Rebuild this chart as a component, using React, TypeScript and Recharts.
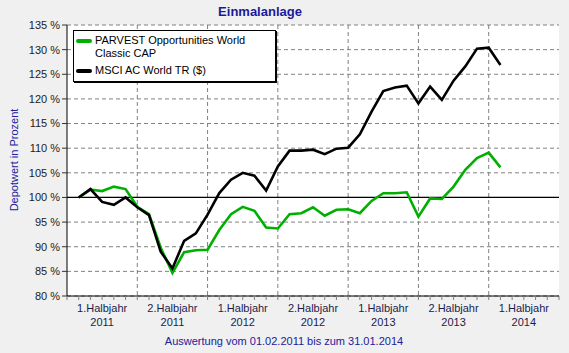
import { LineChart, Line, XAxis, YAxis, CartesianGrid, ReferenceLine } from 'recharts';

// Monate seit Jan 2011 (0 = Jan 2011, 42 = Jul 2014)
const months = [
  1, 2, 3, 4, 5, 6, 7, 8, 9, 10, 11, 12, 13, 14, 15, 16, 17, 18, 19,
  20, 21, 22, 23, 24, 25, 26, 27, 28, 29, 30, 31, 32, 33, 34, 35, 36, 37
];

const parvest = [
  100, 101.6, 101.3, 102.2, 101.7, 98.1, 96.6, 89.8, 84.7, 88.9, 89.3, 89.4,
  93.4, 96.6, 98.1, 97.3, 93.9, 93.7, 96.6, 96.8, 98.0, 96.3, 97.5, 97.6,
  96.8, 99.3, 100.85, 100.85, 101.05, 96.1, 99.8, 99.7, 102.2, 105.6, 108.0, 109.1, 106.1
];

const msci = [
  100, 101.7, 99.1, 98.5, 100, 98.0, 96.4, 89.0, 85.6, 91.2, 92.7, 96.5,
  100.9, 103.6, 105.0, 104.4, 101.4, 106.3, 109.5, 109.5, 109.7, 108.8, 109.9, 110.1,
  112.8, 117.4, 121.6, 122.3, 122.7, 119.1, 122.5, 119.8, 123.7, 126.6, 130.2, 130.4, 126.9
];

const periodLabels = ['1.Halbjahr', '2.Halbjahr', '1.Halbjahr', '2.Halbjahr', '1.Halbjahr', '2.Halbjahr', '1.Halbjahr'];
const periodYears = ['2011', '2011', '2012', '2012', '2013', '2013', '2014'];
const yTicks = [80, 85, 90, 95, 100, 105, 110, 115, 120, 125, 130, 135];
const monthTicks = [
  0, 1, 2, 3, 4, 5, 6, 7, 8, 9, 10, 11, 12, 13, 14, 15, 16, 17, 18, 19, 20, 21,
  22, 23, 24, 25, 26, 27, 28, 29, 30, 31, 32, 33, 34, 35, 36, 37, 38, 39, 40, 41, 42
];
const halfYearLines = [6, 12, 18, 24, 30, 36];

const data = months.map((m, i) => ({ m, parvest: parvest[i], msci: msci[i] }));

const FONT = '"Liberation Sans", Arial, sans-serif';

const HalfYearTick = (props: any) => {
  const { x, y, payload } = props;
  const v = payload.value;
  if (v % 6 !== 3) return <g />;
  const k = (v - 3) / 6;
  return (
    <text x={x} y={y} textAnchor="middle" fill="#1c1c4c" fontSize={11} fontFamily={FONT}>
      <tspan x={x} dy={10}>{periodLabels[k]}</tspan>
      <tspan x={x} dy={13.5}>{periodYears[k]}</tspan>
    </text>
  );
};

const LegendBox = () => (
  <div
    style={{
      position: 'absolute',
      left: 73,
      top: 30,
      background: '#fff',
      border: '1px solid #000',
      boxShadow: '1px 1px 0 #000',
      width: 199,
      padding: '3px 0 4px 2px',
      fontSize: 11,
      color: '#000',
      lineHeight: '13px'
    }}
  >
    <div style={{ display: 'flex', alignItems: 'flex-start', marginBottom: 4 }}>
      <span style={{ width: 16, height: 4, background: '#00b000', marginTop: 5, marginRight: 3, borderRadius: 2 }} />
      <span>PARVEST Opportunities World<br />Classic CAP</span>
    </div>
    <div style={{ display: 'flex', alignItems: 'flex-start' }}>
      <span style={{ width: 16, height: 4, background: '#000', marginTop: 5, marginRight: 3, borderRadius: 2 }} />
      <span>MSCI AC World TR ($)</span>
    </div>
  </div>
);

export default function App() {
  return (
    <div style={{ position: 'absolute', left: 0, top: 0, width: 569, height: 353, background: '#f0f0f0', fontFamily: FONT }}>
      <div style={{ position: 'absolute', left: 0, width: 520, top: 4, textAlign: 'center', fontSize: 13, fontWeight: 'bold', color: '#1a1a9c' }}>
        Einmalanlage
      </div>
      <div
        style={{
          position: 'absolute', left: 14, top: 160, fontSize: 11, color: '#20209a',
          transform: 'translate(-50%, -50%) rotate(-90deg)', whiteSpace: 'nowrap'
        }}
      >
        Depotwert in Prozent
      </div>
      <div style={{ position: 'absolute', left: 0, width: 568, top: 335, textAlign: 'center', fontSize: 11, color: '#20209a' }}>
        Auswertung vom 01.02.2011 bis zum 31.01.2014
      </div>
      <LineChart width={569} height={353} data={data} margin={{ top: 25, right: 10, left: 0, bottom: 17 }}>
        <CartesianGrid fill="#fff" stroke="#808080" strokeDasharray="4 3" verticalValues={halfYearLines} />
        <XAxis
          dataKey="m"
          type="number"
          domain={[0, 42]}
          ticks={monthTicks}
          interval={0}
          height={40}
          tickSize={4}
          tick={<HalfYearTick />}
          axisLine={{ stroke: '#000' }}
          tickLine={{ stroke: '#808080' }}
        />
        <XAxis xAxisId="top" orientation="top" type="number" domain={[0, 42]} height={0} tick={false} tickLine={false} axisLine={{ stroke: '#000' }} />
        <YAxis
          domain={[80, 135]}
          ticks={yTicks}
          width={67}
          tickSize={5}
          tickFormatter={(v: number) => `${v} %`}
          tick={{ fill: '#222', fontSize: 11, fontFamily: FONT }}
          axisLine={{ stroke: '#000' }}
          tickLine={{ stroke: '#333' }}
        />
        <YAxis yAxisId="right" orientation="right" domain={[80, 135]} width={0} tick={false} tickLine={false} axisLine={{ stroke: '#000' }} />
        <ReferenceLine y={100} stroke="#000" strokeWidth={1.2} />
        <Line type="linear" dataKey="parvest" stroke="#00b000" strokeWidth={2.6} dot={false} isAnimationActive={false} />
        <Line type="linear" dataKey="msci" stroke="#000" strokeWidth={2.6} dot={false} isAnimationActive={false} />
      </LineChart>
      <LegendBox />
    </div>
  );
}
